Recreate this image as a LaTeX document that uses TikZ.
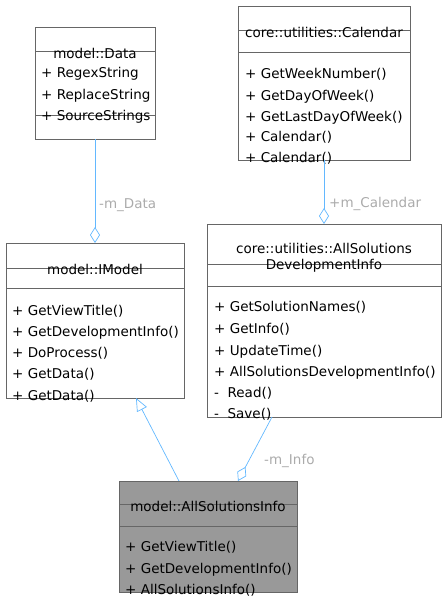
\documentclass[tikz,border=0pt]{standalone}
\usepackage{fontspec}
\setmainfont{DejaVu Sans}
\usetikzlibrary{arrows.meta}
\definecolor{edgeblue}{HTML}{63B8FF}
\definecolor{labelgrey}{HTML}{ABABAB}
\definecolor{boxgrey}{HTML}{666666}
\definecolor{fillgrey}{HTML}{999999}
\tikzset{
  classbox/.style={draw=boxgrey, line width=0.8pt, inner sep=0pt, outer sep=0pt, fill=white},
  divider/.style={draw=boxgrey, line width=0.8pt},
  member/.style={anchor=west, inner sep=0pt, font=\fontsize{13.5}{16}\selectfont, text height=10pt, text depth=3pt},
  classtitle/.style={inner sep=0pt, align=center, font=\fontsize{13.5}{16}\selectfont},
  edgelabel/.style={anchor=west, inner sep=0pt, text=labelgrey, font=\fontsize{13.5}{16}\selectfont, text height=10pt, text depth=3pt},
  aggr/.style={draw=edgeblue, line width=0.7pt, -{Diamond[open, length=16pt, width=10pt]}},
  inherit/.style={draw=edgeblue, line width=0.7pt, -{Triangle[open, length=13pt, width=11pt]}}
}
\begin{document}
\begin{tikzpicture}[x=1pt, y=-1pt]
  \useasboundingbox (0,0) rectangle (445,597);

  \node[classbox, minimum width=120pt, minimum height=112pt] (data) at (95,83) {};
  \draw[divider] (35,51) -- (155,51);
  \draw[divider] (35,115) -- (155,115);
  \node[classtitle] at (95,53) {model::Data};
  \node[member] at (41,74) {+ RegexString};
  \node[member] at (41,96) {+ ReplaceString};
  \node[member] at (41,117) {+ SourceStrings};

  \node[classbox, minimum width=172pt, minimum height=154pt] (calendar) at (324,83) {};
  \draw[divider] (238,30) -- (410,30);
  \draw[divider] (238,52) -- (410,52);
  \node[classtitle] at (324,32) {core::utilities::Calendar};
  \node[member] at (245,75) {+ GetWeekNumber()};
  \node[member] at (245,97) {+ GetDayOfWeek()};
  \node[member] at (245,118) {+ GetLastDayOfWeek()};
  \node[member] at (245,138) {+ Calendar()};
  \node[member] at (245,159) {+ Calendar()};

  \node[classbox, minimum width=178pt, minimum height=155pt] (imodel) at (95,320.5) {};
  \draw[divider] (6,268) -- (184,268);
  \draw[divider] (6,288) -- (184,288);
  \node[classtitle] at (95,269) {model::IModel};
  \node[member] at (12,312) {+ GetViewTitle()};
  \node[member] at (12,333) {+ GetDevelopmentInfo()};
  \node[member] at (12,354) {+ DoProcess()};
  \node[member] at (12,375) {+ GetData()};
  \node[member] at (12,397) {+ GetData()};

  \node[classbox, minimum width=234pt, minimum height=193pt] (devinfo) at (324,320.5) {};
  \draw[divider] (207,264) -- (441,264);
  \draw[divider] (207,286) -- (441,286);
  \node[classtitle] at (324,258) {core::utilities::AllSolutions\\DevelopmentInfo};
  \node[member] at (214,308) {+ GetSolutionNames()};
  \node[member] at (214,330) {+ GetInfo()};
  \node[member] at (214,352) {+ UpdateTime()};
  \node[member] at (214,373) {+ AllSolutionsDevelopmentInfo()};
  \node[member] at (214,394) {-\ \ Read()};
  \node[member] at (214,415) {-\ \ Save()};

  \node[classbox, fill=fillgrey, minimum width=178pt, minimum height=111pt] (solinfo) at (208,536.5) {};
  \draw[divider] (119,504) -- (297,504);
  \draw[divider] (119,526) -- (297,526);
  \node[classtitle] at (208,506) {model::AllSolutionsInfo};
  \node[member] at (125,548) {+ GetViewTitle()};
  \node[member] at (125,570) {+ GetDevelopmentInfo()};
  \node[member] at (125,591) {+ AllSolutionsInfo()};

  \draw[aggr] (data.south) -- (imodel.north);
  \node[edgelabel] at (99,205) {-m\_Data};
  \draw[aggr] (calendar.south) -- (devinfo.north);
  \node[edgelabel] at (329,204) {+m\_Calendar};
  \draw[aggr] ([xshift=-52pt]devinfo.south) -- ([xshift=30pt]solinfo.north);
  \node[edgelabel] at (264,461) {-m\_Info};
  \draw[inherit] ([xshift=-29pt]solinfo.north) -- ([xshift=41pt]imodel.south);
\end{tikzpicture}
\end{document}
